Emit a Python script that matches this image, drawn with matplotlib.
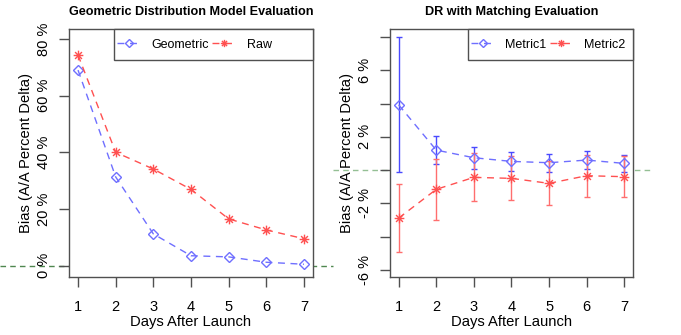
import matplotlib
matplotlib.use("Agg")
import matplotlib.pyplot as plt
from matplotlib.path import Path
from matplotlib.lines import Line2D
from matplotlib.patches import Rectangle

plt.rcParams['font.family'] = ['Liberation Sans', 'DejaVu Sans']

days = [1, 2, 3, 4, 5, 6, 7]

# Left panel
geometric = [69.0, 31.3, 11.2, 3.5, 3.1, 1.2, 0.5]
raw = [74.3, 40.0, 34.1, 26.9, 16.5, 12.6, 9.5]
left_yticks = [0, 20, 40, 60, 80]
left_yticklabels = ['0 %', '20 %', '40 %', '60 %', '80 %']

# Right panel
metric1 = [3.92, 1.20, 0.74, 0.52, 0.44, 0.60, 0.40]
metric1_err = [4.06, 0.83, 0.66, 0.58, 0.55, 0.52, 0.52]
metric2 = [-2.89, -1.16, -0.44, -0.50, -0.80, -0.34, -0.40]
metric2_err = [2.03, 1.85, 1.45, 1.33, 1.33, 1.27, 1.23]
right_yticks = [-6, -4, -2, 0, 2, 4, 6, 8]
right_yticklabels = ['-6 %', '', '-2 %', '', '2 %', '', '6 %', '']

titles = ['Geometric Distribution Model Evaluation', 'DR with Matching Evaluation']
legend_labels = [['Geometric', 'Raw'], ['Metric1', 'Metric2']]
xlabel = 'Days After Launch'
ylabel = 'Bias (A/A Percent Delta)'

# asterisk marker (R pch=8)
c45 = 0.7071
ast_verts = [(-1, 0), (1, 0), (0, -1), (0, 1),
             (-c45, -c45), (c45, c45), (-c45, c45), (c45, -c45)]
ast_codes = [Path.MOVETO, Path.LINETO] * 4
asterisk = Path(ast_verts, ast_codes)

blue_line = '#6f6fff'
red_line = '#ff5050'
blue_err = '#4a4aff'
red_err = '#ff6e6e'
green_left = '#4f874f'
green_right = '#94bf94'
axis_col = '#505050'

fig = plt.figure(figsize=(6.81, 3.35), dpi=100)
W, H = 681.0, 335.0

ax1 = fig.add_axes([69 / W, 1 - 277 / H, (313 - 69) / W, (277 - 29) / H])
ax2 = fig.add_axes([390 / W, 1 - 277 / H, (633.3 - 390) / W, (277 - 29) / H])

dash = (0, (5, 4))
ms_d = 5.2
ms_a = 7

# Left panel
ax1.plot(days, geometric, color=blue_line, linestyle=dash, lw=1.0,
         marker='D', ms=ms_d, mfc='none', mec=blue_line, mew=1.0, label=legend_labels[0][0])
ax1.plot(days, raw, color=red_line, linestyle=dash, lw=1.0,
         marker=asterisk, ms=ms_a, mfc='none', mec=red_line, mew=1.0, label=legend_labels[0][1])
ax1.set_xlim(0.76, 7.24)
ax1.set_ylim(-4.0, 83.5)
ax1.set_yticks(left_yticks)
ax1.set_yticklabels(left_yticklabels, rotation=90, va='center')

# Right panel
ax2.errorbar(days, metric1, yerr=metric1_err, fmt='none', ecolor=blue_err,
             elinewidth=1.0, capsize=2.2, capthick=1.0)
ax2.errorbar(days, metric2, yerr=metric2_err, fmt='none', ecolor=red_err,
             elinewidth=1.0, capsize=2.2, capthick=1.0)
ax2.plot(days, metric1, color=blue_line, linestyle=dash, lw=1.0,
         marker='D', ms=ms_d + 0.4, mfc='none', mec=blue_line, mew=1.0, label=legend_labels[1][0])
ax2.plot(days, metric2, color=red_line, linestyle=dash, lw=1.0,
         marker=asterisk, ms=ms_a, mfc='none', mec=red_line, mew=1.0, label=legend_labels[1][1])
ax2.set_xlim(0.77, 7.24)
ax2.set_ylim(-6.43, 8.48)
ax2.set_yticks(right_yticks)
ax2.set_yticklabels(right_yticklabels, rotation=90, va='center')

# legend frames in figure pixels: (left, right, top, bottom)
leg_frames = [(114, 313, 29, 60), (468, 633.3, 29, 60)]

for ax, title, fr in zip([ax1, ax2], titles, leg_frames):
    ax.set_xticks(days)
    ax.set_xticklabels([str(d) for d in days])
    ax.tick_params(axis='both', length=7, width=1, color=axis_col, labelsize=10.5)
    ax.tick_params(axis='x', pad=9.5)
    ax.tick_params(axis='y', pad=6)
    for sp in ax.spines.values():
        sp.set_color(axis_col)
        sp.set_linewidth(1.0)
    ax.set_title(title, fontsize=9.1, fontweight='bold', pad=10)
    ax.set_xlabel(xlabel, fontsize=10.6, labelpad=0.5)
    ax.set_ylabel(ylabel, fontsize=10.6, labelpad=2.5)

    # legend frame
    x0, x1, yt, yb = fr
    rect = Rectangle((x0 / W, 1 - yb / H), (x1 - x0) / W, (yb - yt) / H,
                     transform=fig.transFigure, facecolor='white',
                     edgecolor=axis_col, lw=1.0, zorder=4.5, clip_on=False)
    ax.add_patch(rect)
    # anchor legend content at frame left, vertical centre
    anchor = ax.transAxes.inverted().transform(
        fig.transFigure.transform((x0 / W, 1 - (yt + yb) / 2 / H)))
    ax.legend(loc='center left', bbox_to_anchor=(anchor[0], anchor[1]),
              ncol=2, frameon=False, borderaxespad=0, borderpad=0.25,
              fontsize=9, handlelength=1.85, handletextpad=0.9,
              columnspacing=0.25, numpoints=1, markerscale=0.75)

# green dashed zero lines (spanning beyond plot region)
y0_left = ax1.transData.transform((1, 0))[1]
y0_right = ax2.transData.transform((1, 0))[1]
fig.add_artist(Line2D([0 / W, 333 / W], [y0_left / H, y0_left / H],
                      transform=fig.transFigure, color=green_left, lw=1.0,
                      linestyle=(0, (4, 3)), zorder=0))
fig.add_artist(Line2D([333 / W, 653 / W], [y0_right / H, y0_right / H],
                      transform=fig.transFigure, color=green_right, lw=1.0,
                      linestyle=(0, (4, 3)), zorder=0))

fig.savefig('out.png', dpi=100)
